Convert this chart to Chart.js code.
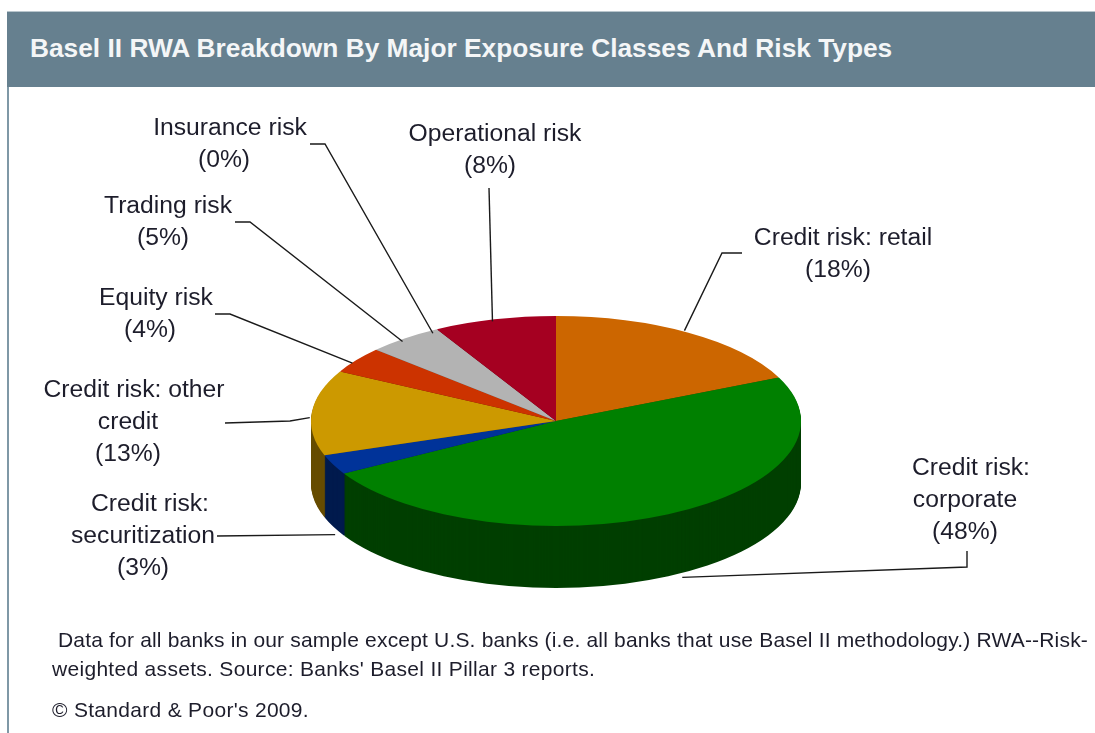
<!DOCTYPE html>
<html>
<head>
<meta charset="utf-8">
<title>Basel II RWA Breakdown</title>
<script src="https://cdn.jsdelivr.net/npm/chart.js@4"></script>
<style>
  html, body { margin: 0; padding: 0; background: #fff; overflow: hidden; }
  #page { position: relative; width: 1095px; height: 733px; font-family: "Liberation Sans", Arial, sans-serif; }
  #band { position: absolute; left: 7px; top: 11px; right: 0; height: 76px; background: #66808f; border-top: 1px solid #b9c6cd; box-sizing: border-box; }
  #rule { position: absolute; left: 7px; top: 87px; bottom: 0; width: 2px; background: #7f98a6; }
  #heading { position: absolute; left: 30px; top: 33px; color: #f4f6f7; font-size: 26.3px; font-weight: bold; line-height: 30px; white-space: nowrap; }
  .note { position: absolute; color: #1d1d2b; font-size: 21px; letter-spacing: 0.3px; line-height: 24px; white-space: nowrap; }
  canvas { position: absolute; left: 0; top: 0; }
</style>
</head>
<body>
<div id="page">
  <canvas id="pie" width="1095" height="733"></canvas>
  <div id="band"></div>
  <div id="rule"></div>
  <div id="heading">Basel II RWA Breakdown By Major Exposure Classes And Risk Types</div>
  <div class="note" style="left:58px;top:628px;letter-spacing:0.18px">Data for all banks in our sample except U.S. banks (i.e. all banks that use Basel II methodology.) RWA--Risk-</div>
  <div class="note" style="left:52px;top:657px">weighted assets. Source: Banks' Basel II Pillar 3 reports.</div>
  <div class="note" style="left:52px;top:698px">© Standard &amp; Poor's 2009.</div>
</div>
<script>
// Share of risk-weighted assets, percent, clockwise from twelve o'clock
const categories = ['Credit risk: retail', 'Credit risk: corporate', 'Credit risk: securitization',
  'Credit risk: other credit', 'Equity risk', 'Trading risk', 'Insurance risk', 'Operational risk'];
const shares = [18, 48, 3, 13, 4, 5, 0, 8];
const topColors = ['#cc6600', '#008000', '#003399', '#cc9900', '#cc3300', '#b3b3b3', '#808080', '#a50021'];
const sideColors = ['#663300', '#003f00', '#001a4d', '#664c00', '#661a00', '#595959', '#404040', '#500010'];

// Tilt of the disc and thickness of its rim
const TILT = 105 / 245;
const RIM = 62;

// Callout layout: wrapped text lines, and a leader running from the text to its slice.
// `rim` ends the leader on the lower edge of the disc rather than the upper one.
const callouts = [
  { slice: 0, lines: [['Credit risk: retail', 843, 238], ['(18%)', 838, 270]], path: [[742, 253], [722, 253]], nudge: [-4, -2] },
  { slice: 1, lines: [['Credit risk:', 971, 468], ['corporate', 965, 500], ['(48%)', 965, 532]], path: [[967, 551], [967, 567]], rim: true, nudge: [14, 1] },
  { slice: 2, lines: [['Credit risk:', 150, 504], ['securitization', 143, 536], ['(3%)', 143, 568]], path: [[217, 536]], rim: true, nudge: [2, 8] },
  { slice: 3, lines: [['Credit risk: other', 134, 390], ['credit', 128, 422], ['(13%)', 128, 454]], path: [[225, 423], [290, 421]], nudge: [-2, 5] },
  { slice: 4, lines: [['Equity risk', 156, 298], ['(4%)', 150, 330]], path: [[215, 314], [230, 314]], nudge: [-4, 3] },
  { slice: 5, lines: [['Trading risk', 168, 206], ['(5%)', 163, 238]], path: [[235, 222], [250, 222]], nudge: [-2, 3] },
  { slice: 6, lines: [['Insurance risk', 230, 128], ['(0%)', 224, 160]], path: [[310, 144], [325, 144]], nudge: [-4, 4] },
  { slice: 7, lines: [['Operational risk', 495, 134], ['(8%)', 490, 166]], path: [[489, 188]], nudge: [-2, 2] }
];

function tiltAbout(ctx, arc) {
  ctx.translate(arc.x, arc.y);
  ctx.scale(1, TILT);
  ctx.translate(-arc.x, -arc.y);
}

// Stacks darkened copies of the slices to form the rim, then tilts the top face
const tiltedDisc = {
  id: 'tiltedDisc',
  beforeDatasetsDraw(chart) {
    const ctx = chart.ctx;
    const arcs = chart.getDatasetMeta(0).data;
    ctx.save();
    for (let drop = RIM; drop > 0; drop--) {
      ctx.save();
      ctx.translate(0, drop);
      tiltAbout(ctx, arcs[0]);
      arcs.forEach((arc, i) => {
        const own = arc.options;
        arc.options = Object.assign({}, own, { backgroundColor: sideColors[i] });
        arc.draw(ctx);
        arc.options = own;
      });
      ctx.restore();
    }
    tiltAbout(ctx, arcs[0]);
  },
  afterDatasetsDraw(chart) {
    chart.ctx.restore();
  }
};

// Callout text and leader lines
const calloutLabels = {
  id: 'calloutLabels',
  afterDraw(chart) {
    const ctx = chart.ctx;
    const arcs = chart.getDatasetMeta(0).data;
    ctx.save();
    ctx.strokeStyle = '#1a1a1a';
    ctx.lineWidth = 1.4;
    callouts.forEach(c => {
      const arc = arcs[c.slice];
      const mid = (arc.startAngle + arc.endAngle) / 2;
      const endX = arc.x + arc.outerRadius * Math.cos(mid) + c.nudge[0];
      const endY = arc.y + arc.outerRadius * TILT * Math.sin(mid) + (c.rim ? RIM : 0) + c.nudge[1];
      ctx.beginPath();
      c.path.forEach((p, i) => (i ? ctx.lineTo(p[0], p[1]) : ctx.moveTo(p[0], p[1])));
      ctx.lineTo(endX, endY);
      ctx.stroke();
    });
    ctx.fillStyle = '#1d1d2b';
    ctx.font = '24.7px "Liberation Sans", Arial, sans-serif';
    ctx.textAlign = 'center';
    ctx.textBaseline = 'middle';
    callouts.forEach(c => c.lines.forEach(l => ctx.fillText(l[0], l[1], l[2])));
    ctx.restore();
  }
};

new Chart(document.getElementById('pie'), {
  type: 'pie',
  data: {
    labels: categories,
    datasets: [{ data: shares, backgroundColor: topColors, borderWidth: 0, clip: false }]
  },
  options: {
    responsive: false,
    animation: false,
    layout: { padding: { left: 311, right: 294, top: 176, bottom: 67 } },
    plugins: { legend: { display: false }, tooltip: { enabled: false } }
  },
  plugins: [tiltedDisc, calloutLabels]
});
</script>
</body>
</html>
